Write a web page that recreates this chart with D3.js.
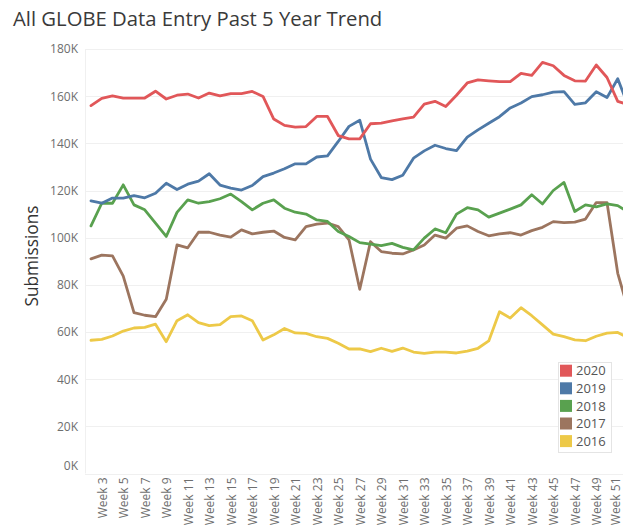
<!DOCTYPE html>
<html lang="en">
<head>
    <meta charset="UTF-8">
    <title>All GLOBE Data Entry Past 5 Year Trend</title>
    <script src="https://d3js.org/d3.v7.min.js"></script>
</head>

<style type="text/css">
    body {
        margin: 0;
        background-color: white;
    }
    text {
        font-family: "Open Sans", Lato, sans-serif;
    }
</style>
<body>
<div id="chart"></div>

<script>
    // weeks 2..52 (the last one runs off the right edge, like the original)
    var weeks = [2, 3, 4, 5, 6, 7, 8, 9, 10, 11, 12, 13, 14, 15, 16, 17, 18, 19, 20, 21, 22, 23, 24, 25, 26, 27,
        28, 29, 30, 31, 32, 33, 34, 35, 36, 37, 38, 39, 40, 41, 42, 43, 44, 45, 46, 47, 48, 49, 50, 51, 52];
    var weekLabels = [3, 5, 7, 9, 11, 13, 15, 17, 19, 21, 23, 25, 27, 29, 31, 33, 35, 37, 39, 41, 43, 45, 47, 49, 51];

    var years = ["2020", "2019", "2018", "2017", "2016"];
    var colors = ["#e15759", "#4e79a7", "#59a14f", "#9c755f", "#edc948"];

    // submissions in thousands
    var y2020 = [156.0, 159.1, 160.1, 159.2, 159.2, 159.2, 162.1, 158.8, 160.4, 160.9, 159.2, 161.3, 160.1, 161.1, 161.1, 162.0,
        159.9, 150.3, 147.6, 146.9, 147.1, 151.4, 151.4, 143.3, 141.9, 141.9,
        148.3, 148.6, 149.5, 150.4, 151.1, 156.6, 157.8, 155.6, 160.4, 165.6, 166.9, 166.5, 166.2, 166.2, 169.7, 168.8,
        174.3, 172.9, 168.8, 166.5, 166.4, 173.2, 167.9, 157.8, 156.3];
    var y2019 = [115.6, 114.6, 116.8, 116.8, 117.8, 116.9, 118.8, 123.1, 120.4, 122.7, 124.0, 127.1, 122.3, 121.0, 120.2, 122.1,
        125.9, 127.4, 129.2, 131.3, 131.3, 134.2, 134.7, 140.8, 147.2, 149.8,
        133.3, 125.5, 124.6, 126.5, 133.7, 136.8, 139.2, 137.8, 136.9, 142.6, 145.7, 148.5, 151.3, 155.0, 157.1, 159.8,
        160.6, 161.7, 161.9, 156.5, 157.2, 161.9, 159.4, 167.4, 155.5];
    var y2018 = [105.0, 114.6, 114.6, 122.4, 113.9, 111.8, 106.2, 100.5, 110.7, 116.0, 114.6, 115.3, 116.5, 118.5, 115.3, 111.8,
        114.6, 116.0, 112.5, 110.8, 110.0, 107.5, 106.9, 102.6, 100.5, 97.9,
        97.3, 96.6, 97.6, 95.9, 94.8, 99.8, 103.7, 102.1, 110.0, 112.7, 111.8, 108.7, 110.4, 112.1, 113.9, 118.2,
        114.3, 120.0, 123.4, 111.1, 113.9, 113.1, 114.3, 113.6, 110.8];
    var y2017 = [91.0, 92.6, 92.3, 83.7, 68.2, 67.1, 66.5, 73.9, 96.9, 95.7, 102.3, 102.3, 101.1, 100.2, 103.3, 101.6,
        102.3, 102.8, 100.1, 99.1, 104.7, 105.7, 106.2, 104.7, 99.1, 78.1,
        98.3, 94.1, 93.4, 93.1, 94.8, 96.9, 101.1, 99.8, 104.0, 105.0, 102.6, 100.8, 101.6, 102.1, 101.1, 103.0,
        104.4, 106.8, 106.4, 106.6, 107.9, 114.9, 114.9, 84.9, 69.0];
    var y2016 = [56.5, 56.9, 58.3, 60.4, 61.7, 62.0, 63.3, 55.9, 64.8, 67.3, 64.0, 62.7, 63.1, 66.5, 66.8, 64.8,
        56.6, 58.8, 61.5, 59.6, 59.4, 58.0, 57.3, 55.2, 52.8, 52.8,
        51.7, 53.1, 51.8, 53.2, 51.5, 50.9, 51.5, 51.5, 51.1, 51.9, 53.1, 56.2, 68.6, 65.9, 70.3, 66.9,
        63.0, 59.1, 58.0, 56.7, 56.3, 58.2, 59.5, 59.8, 57.5];

    var yTicks = [0, 20, 40, 60, 80, 100, 120, 140, 160, 180];

    var series = [
        {year: "2016", values: y2016},
        {year: "2017", values: y2017},
        {year: "2018", values: y2018},
        {year: "2019", values: y2019},
        {year: "2020", values: y2020}
    ];

    var width = 623;
    var height = 529;
    var paneLeft = 85;
    var paneTop = 49;
    var paneBottom = 473.5;

    var svg = d3.select("#chart").append("svg")
        .attr("width", width)
        .attr("height", height);

    var color = d3.scaleOrdinal().domain(years).range(colors);

    var x = d3.scalePoint()
        .domain(weeks)
        .range([91, 628.5]);

    var y = d3.scaleLinear()
        .domain([0, 180])
        .range([paneBottom, paneTop]);

    // title
    svg.append("text")
        .attr("x", 13)
        .attr("y", 26)
        .style("font-size", "20.3px")
        .style("fill", "#3a3a3a")
        .text("All GLOBE Data Entry Past 5 Year Trend");

    // grid
    svg.append("g").selectAll("line")
        .data(yTicks)
        .enter().append("line")
        .attr("x1", paneLeft)
        .attr("x2", width)
        .attr("y1", function (d) { return Math.round(y(d)) + 0.5; })
        .attr("y2", function (d) { return Math.round(y(d)) + 0.5; })
        .style("stroke", "#f0f0f0")
        .style("stroke-width", 1);

    svg.append("line")
        .attr("x1", paneLeft + 0.5)
        .attr("x2", paneLeft + 0.5)
        .attr("y1", paneTop)
        .attr("y2", paneBottom)
        .style("stroke", "#f0f0f0");

    // y axis
    var yAxis = svg.append("g")
        .attr("transform", "translate(" + (paneLeft - 7) + ",0)")
        .call(d3.axisLeft(y).tickValues(yTicks).tickSize(0).tickPadding(0)
            .tickFormat(function (d) { return d + "K"; }));
    yAxis.select(".domain").remove();
    yAxis.selectAll("text")
        .style("font-family", "'Open Sans', Lato, sans-serif")
        .style("font-size", "12px")
        .style("fill", "#6e6e6e")
        .attr("dy", function (d) { return d === 0 ? "-0.3em" : "0.32em"; });

    svg.append("text")
        .attr("transform", "translate(38,256) rotate(-90)")
        .style("text-anchor", "middle")
        .style("font-size", "17.3px")
        .style("fill", "#333")
        .text("Submissions");

    // x axis
    var xAxis = svg.append("g")
        .attr("transform", "translate(0," + (paneBottom + 4) + ")")
        .call(d3.axisBottom(x).tickValues(weekLabels).tickSize(0).tickPadding(0)
            .tickFormat(function (d) { return "Week " + d; }));
    xAxis.select(".domain").remove();
    xAxis.selectAll("text")
        .style("font-family", "'Open Sans', Lato, sans-serif")
        .style("font-size", "12px")
        .style("fill", "#6e6e6e")
        .style("text-anchor", "end")
        .attr("x", 0)
        // keep the last label inside the window
        .attr("y", function (d) { return Math.min(0.1, 619.3 - x(d) - 4.2); })
        .attr("dy", "0.35em")
        .attr("transform", "rotate(-90)");

    // lines
    var line = d3.line()
        .x(function (d, i) { return x(weeks[i]); })
        .y(function (d) { return y(d); });

    svg.append("g").selectAll("path")
        .data(series)
        .enter().append("path")
        .attr("d", function (d) { return line(d.values); })
        .style("fill", "none")
        .style("stroke", function (d) { return color(d.year); })
        .style("stroke-width", 2.8)
        .style("stroke-linejoin", "round")
        .style("stroke-linecap", "round");

    // legend
    var legend = svg.append("g").attr("transform", "translate(558,362)");

    legend.append("rect")
        .attr("x", 0.5)
        .attr("y", 0.5)
        .attr("width", 53)
        .attr("height", 90)
        .style("fill", "white")
        .style("stroke", "#e4e4e4");

    var item = legend.selectAll(".item")
        .data(years)
        .enter().append("g")
        .attr("class", "item")
        .attr("transform", function (d, i) { return "translate(0," + (8.7 + i * 17.6) + ")"; });

    item.append("rect")
        .attr("x", 2)
        .attr("y", -6)
        .attr("width", 12)
        .attr("height", 12)
        .style("fill", function (d) { return color(d); });

    item.append("text")
        .attr("x", 18)
        .attr("y", 0)
        .attr("dy", "0.36em")
        .style("font-size", "13px")
        .style("fill", "#555")
        .text(function (d) { return d; });
</script>

</body>
</html>
